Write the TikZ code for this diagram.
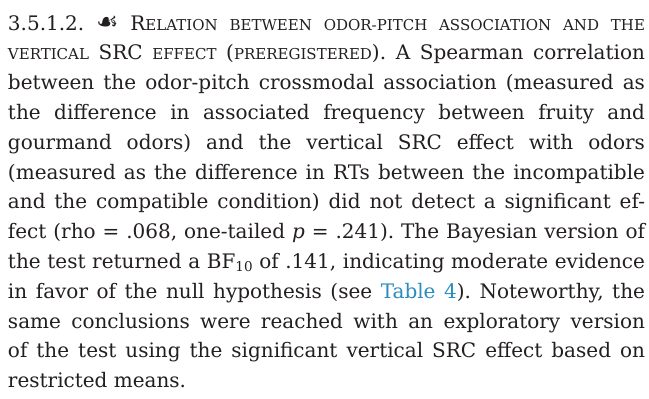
\documentclass[tikz,border=0pt]{standalone}
\usepackage{fontspec}
\setmainfont{DejaVu Serif}
\newfontfamily\symfont{DejaVu Sans}
\definecolor{ink}{HTML}{231F20}
\definecolor{linkblue}{HTML}{2A8CC0}
% fake small capitals: upper-case letters at a reduced size
\newcommand\smc[1]{{\fontsize{15pt}{15pt}\selectfont #1}}
\newcommand\sub[1]{\raisebox{-0.3ex}{\fontsize{13.5pt}{13.5pt}\selectfont #1}}
\tikzset{
  textline/.style={anchor=base west, inner sep=0pt, outer sep=0pt, text=ink,
    font=\fontsize{20pt}{20pt}\selectfont\frenchspacing},
}
\newcommand\fullline[1]{\hbox to 637pt{#1}}
\begin{document}
\begin{tikzpicture}[x=1pt,y=1pt]
\useasboundingbox (0,0) rectangle (649,-399);
\fill[white] (0,0) rectangle (649,-399);
\node[textline] (l1) at (8,-30.0) {\fullline{3.5.1.2. {\symfont\fontsize{25pt}{25pt}\selectfont ☙} R\smc{ELATION} \smc{BETWEEN} \smc{ODOR-PITCH} \smc{ASSOCIATION} \smc{AND} \smc{THE}}};
\node[textline] (l2) at (8,-59.8) {\fullline{\smc{VERTICAL} SRC \smc{EFFECT} (\smc{PREREGISTERED}). A Spearman correlation}};
\node[textline] (l3) at (8,-89.6) {\fullline{between the odor-pitch crossmodal association (measured as}};
\node[textline] (l4) at (8,-119.4) {\fullline{the difference in associated frequency between fruity and}};
\node[textline] (l5) at (8,-149.2) {\fullline{gourmand odors) and the vertical SRC effect with odors}};
\node[textline] (l6) at (8,-179.0) {\fullline{(measured as the difference in RTs between the incompatible}};
\node[textline] (l7) at (8,-208.8) {\fullline{and the compatible condition) did not detect a significant ef-}};
\node[textline] (l8) at (8,-238.6) {\fullline{fect (rho = .068, one-tailed {\itshape p} = .241). The Bayesian version of}};
\node[textline] (l9) at (8,-268.4) {\fullline{the test returned a BF\sub{10} of .141, indicating moderate evidence}};
\node[textline] (l10) at (8,-298.2) {\fullline{in favor of the null hypothesis (see {\color{linkblue}Table 4}). Noteworthy, the}};
\node[textline] (l11) at (8,-328.0) {\fullline{same conclusions were reached with an exploratory version}};
\node[textline] (l12) at (8,-357.8) {\fullline{of the test using the significant vertical SRC effect based on}};
\node[textline] (l13) at (8,-387.6) {\fullline{restricted means.\hfil}};
\end{tikzpicture}
\end{document}
